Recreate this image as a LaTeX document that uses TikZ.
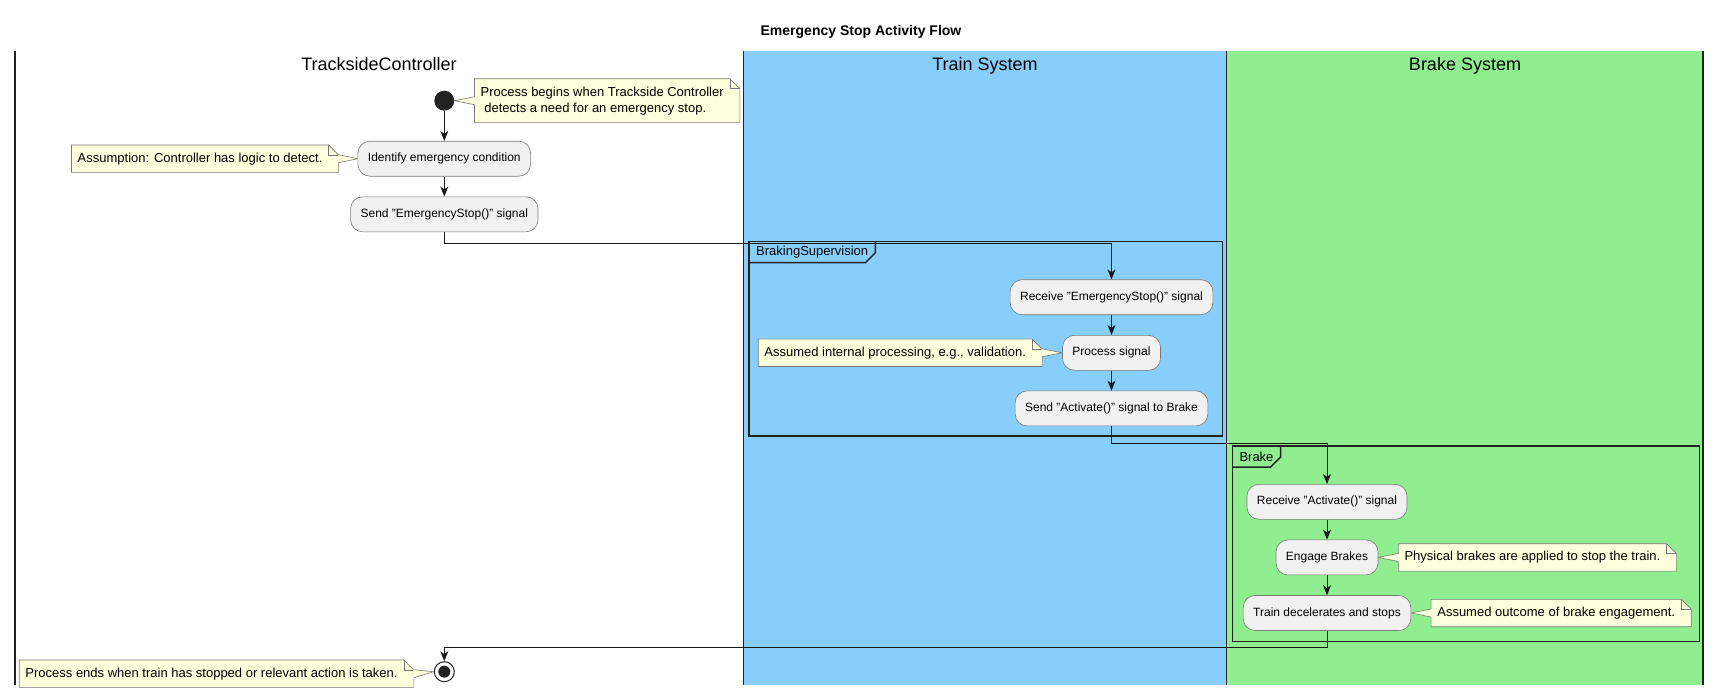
\documentclass[tikz,border=0pt]{standalone}
\usepackage{fontspec}
\setmainfont{Liberation Sans}
\usetikzlibrary{arrows.meta, positioning, calc, backgrounds}
\pgfdeclarelayer{lanes}
\pgfsetlayers{lanes,background,main}
\definecolor{estopBlue}{RGB}{135,206,250}
\definecolor{estopGreen}{RGB}{144,238,144}
\definecolor{estopInk}{RGB}{34,34,34}
\definecolor{estopArrow}{RGB}{24,24,24}
\definecolor{estopAction}{RGB}{241,241,241}
\definecolor{estopNote}{RGB}{254,255,221}
\definecolor{estopEdge}{RGB}{120,120,120}

% note body with folded corner, drawn from the anchors of a text node
\newcommand{\notebody}[1]{%
  \filldraw[noteedge, fill=estopNote] (#1.north west) -- (#1.north east) -- ([xshift=10pt,yshift=-10pt]#1.north east)
    -- ([xshift=10pt]#1.south east) -- (#1.south west) -- cycle;
  \draw[noteedge] (#1.north east) -- ([yshift=-10pt]#1.north east) -- ([xshift=10pt,yshift=-10pt]#1.north east);}
% tail of a note standing right of its target
\newcommand{\tailleft}[2]{%
  \fill[estopNote] ([shift={(0.8pt,4pt)}]#1.west) -- (#2) -- ([shift={(0.8pt,-4pt)}]#1.west) -- cycle;
  \draw[noteedge] ([yshift=4pt]#1.west) -- (#2) -- ([yshift=-4pt]#1.west);}
% tail of a note standing left of its target
\newcommand{\tailright}[2]{%
  \fill[estopNote] ([shift={(9.2pt,4pt)}]#1.east) -- (#2) -- ([shift={(9.2pt,-4pt)}]#1.east) -- cycle;
  \draw[noteedge] ([shift={(10pt,4pt)}]#1.east) -- (#2) -- ([shift={(10pt,-4pt)}]#1.east);}

\begin{document}
\begin{tikzpicture}[x=1pt, y=-1pt,
    action/.style={rectangle, rounded corners=12pt, draw=estopEdge, line width=0.6pt, fill=estopAction,
      minimum height=35pt, inner xsep=10pt, font=\fontsize{12}{14}\selectfont},
    note/.style={align=left, inner xsep=6pt, inner ysep=4pt, minimum height=27pt, font=\fontsize{13}{16}\selectfont},
    noteedge/.style={draw=estopEdge, line width=0.6pt},
    lanehead/.style={anchor=base, font=\fontsize{18}{20}\selectfont},
    lane/.style={draw=estopInk, line width=1.5pt},
    groupframe/.style={draw=estopInk, line width=1.5pt},
    grouplabel/.style={anchor=north west, inner xsep=7pt, inner ysep=0pt, minimum height=20.6pt,
      font=\fontsize{13}{15}\selectfont},
    arrow/.style={-{Stealth[length=10pt, width=8pt, inset=3pt]}, line width=1pt, draw=estopArrow}
  ]
  \useasboundingbox (0,0) rectangle (1722,696);

  % swimlanes
  \begin{pgfonlayer}{lanes}
    \fill[estopBlue] (743.3,50.7) rectangle (1226.7,685);
    \fill[estopGreen] (1226.7,50.7) rectangle (1703,685);
    \foreach \x in {15,743.3,1226.7,1703}
      \draw[lane] (\x,50.7) -- (\x,685);
  \end{pgfonlayer}

  \node[anchor=base, font=\bfseries\fontsize{14}{16}\selectfont] (title) at (861,35.7) {Emergency Stop Activity Flow};
  \node[lanehead] (tcHead) at (379,70.5) {TracksideController};
  \node[lanehead] (tsHead) at (985,70.5) {Train System};
  \node[lanehead] (bsHead) at (1465,70.5) {Brake System};

  % groups
  \draw[groupframe] (749,241.7) rectangle (1222.3,436);
  \node[grouplabel] (supTab) at (749,241.7) {BrakingSupervision};
  \draw[groupframe] (supTab.north east) -- ([yshift=10pt]supTab.south east) -- ([xshift=-10pt]supTab.south east) -- (supTab.south west);
  \draw[groupframe] (1232.3,446) rectangle (1699.3,641.3);
  \node[grouplabel] (brkTab) at (1232.3,446) {Brake};
  \draw[groupframe] (brkTab.north east) -- ([yshift=10pt]brkTab.south east) -- ([xshift=-10pt]brkTab.south east) -- (brkTab.south west);

  % activities
  \node[circle, fill=estopInk, minimum size=20pt, inner sep=0pt] (init) at (444.3,100.7) {};
  \node[action, below=30pt of init] (identify) {Identify emergency condition};
  \node[action, below=20pt of identify] (sendES) {Send "EmergencyStop()" signal};
  \node[action] (recvES) at (1111.5,297.2) {Receive "EmergencyStop()" signal};
  \node[action, below=20pt of recvES] (process) {Process signal};
  \node[action, below=20pt of process] (sendAct) {Send "Activate()" signal to Brake};
  \node[action] (recvAct) at (1327,501.8) {Receive "Activate()" signal};
  \node[action, below=20pt of recvAct] (engage) {Engage Brakes};
  \node[action, below=20pt of engage] (decel) {Train decelerates and stops};
  \node[circle, draw=estopInk, line width=1pt, fill=white, minimum size=20pt, inner sep=0pt] (final) at (444.3,671.7) {};
  \fill[estopInk] (final.center) circle (6pt);

  % notes
  \node[note, minimum height=43.5pt, right=20pt of init] (n1) {Process begins when Trackside Controller\\\hspace*{0.28em}detects a need for an emergency stop.};
  \node[note, left=29pt of identify] (n2) {Assumption: Controller has logic to detect.};
  \node[note, left=30pt of process] (n3) {Assumed internal processing, e.g., validation.};
  \node[note, right=20pt of engage] (n4) {Physical brakes are applied to stop the train.};
  \node[note, right=20pt of decel] (n5) {Assumed outcome of brake engagement.};
  \node[note, left=30pt of final, yshift=-2pt] (n6) {Process ends when train has stopped or relevant action is taken.};
  \begin{scope}[on background layer]
    \foreach \n in {n1,n2,n3,n4,n5,n6}
      \notebody{\n};
    \tailleft{n1}{init.east}
    \tailright{n2}{identify.west}
    \tailright{n3}{process.west}
    \tailleft{n4}{engage.east}
    \tailleft{n5}{decel.east}
    \tailright{n6}{final.west}
  \end{scope}

  % flow
  \draw[arrow] (init) -- (identify);
  \draw[arrow] (identify) -- (sendES);
  \draw[arrow] (sendES.south) -- ++(0,11) -| (recvES.north);
  \draw[arrow] (recvES) -- (process);
  \draw[arrow] (process) -- (sendAct);
  \draw[arrow] (sendAct.south) -- ++(0,17) -| (recvAct.north);
  \draw[arrow] (recvAct) -- (engage);
  \draw[arrow] (engage) -- (decel);
  \draw[arrow] (decel.south) -- ++(0,17) -| (final.north);
\end{tikzpicture}
\end{document}
